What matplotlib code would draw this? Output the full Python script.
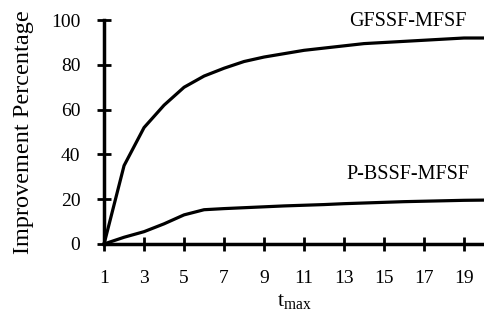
import matplotlib
matplotlib.use("Agg")
import matplotlib.pyplot as plt

t = list(range(1, 21))
gfssf = [0, 35, 52, 62, 70, 75, 78.5, 81.5, 83.5, 85, 86.5, 87.5, 88.5, 89.5, 90, 90.5, 91, 91.5, 92, 92]
pbssf = [0, 3, 5.5, 9, 13, 15.3, 15.8, 16.2, 16.6, 17, 17.3, 17.6, 18, 18.3, 18.6, 18.9, 19.1, 19.3, 19.5, 19.6]
xticks = [1, 3, 5, 7, 9, 11, 13, 15, 17, 19]
yticks = [0, 20, 40, 60, 80, 100]

plt.rcParams['font.family'] = ['Liberation Serif']
plt.rcParams['mathtext.fontset'] = 'custom'
plt.rcParams['mathtext.rm'] = 'Liberation Serif'
plt.rcParams['mathtext.it'] = 'Liberation Serif'

fig = plt.figure(figsize=(4.84, 3.14), dpi=100)
ax = fig.add_axes([0.215, 0.223, 0.785, 0.713])
ax.plot(t, gfssf, color='black', lw=2.3, clip_on=False)
ax.plot(t, pbssf, color='black', lw=2.3, clip_on=False)
ax.set_xlim(1, 20)
ax.set_ylim(0, 100)
ax.set_xticks(xticks)
ax.set_yticks(yticks)
for s in ['top', 'right']:
    ax.spines[s].set_visible(False)
for s in ['left', 'bottom']:
    ax.spines[s].set_linewidth(2.5)
ax.tick_params(direction='inout', length=10, width=2, labelsize=14)
ax.tick_params(axis='y', pad=12)
ax.tick_params(axis='x', pad=14)
ax.set_ylabel('Improvement Percentage', fontsize=17.5, labelpad=12)
ax.set_xlabel(r'$\mathrm{t_{max}}$', fontsize=16, labelpad=3)
ax.text(16.2, 99.5, 'GFSSF-MFSF', fontsize=14.5, ha='center', va='center')
ax.text(16.2, 31, 'P-BSSF-MFSF', fontsize=14.5, ha='center', va='center')
fig.savefig('out.png', dpi=100)
